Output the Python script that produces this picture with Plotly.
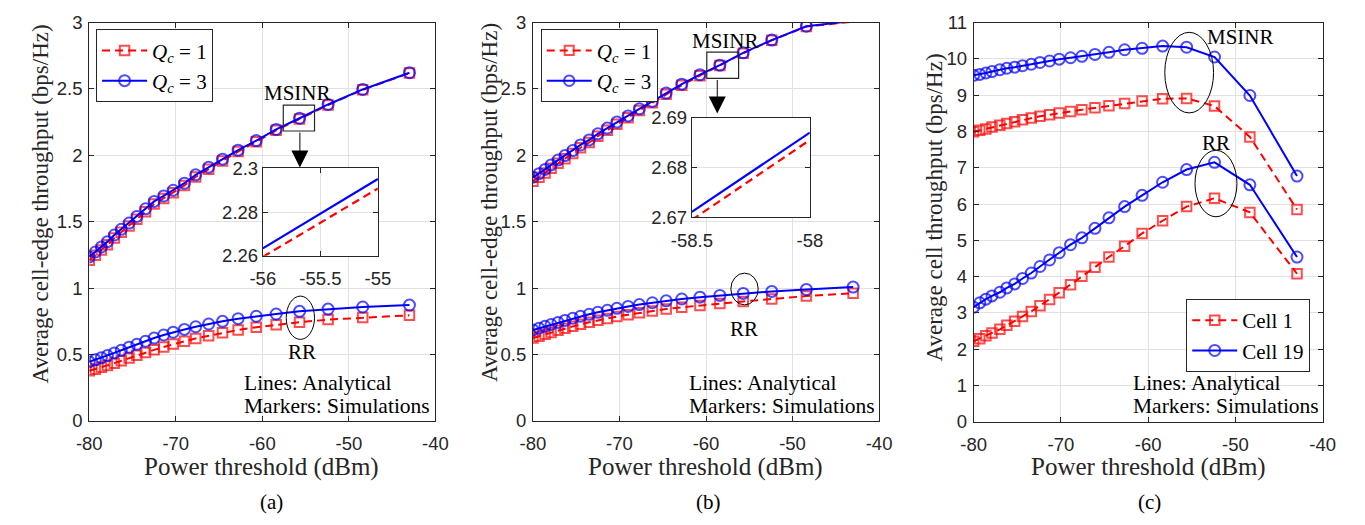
import plotly.graph_objects as go

# ---------------- data ----------------
power_ab = [-80, -79.3, -78.6, -77.9, -77.1, -76.3, -75.4, -74.5, -73.5, -72.5, -71.4, -70.3,
            -69.0, -67.7, -66.2, -64.6, -62.8, -60.7, -58.4, -55.7, -52.4, -48.4, -43]
power_c = [-80, -79.3, -78.6, -77.9, -77.0, -76.2, -75.3, -74.4, -73.4, -72.4, -71.3, -70.2,
           -68.9, -67.6, -66.1, -64.5, -62.7, -60.7, -58.35, -55.6, -52.4, -48.35, -42.95]

# (a) cell-edge throughput
a_msinr_q1 = [1.21, 1.248, 1.287, 1.327, 1.377, 1.42, 1.468, 1.518, 1.576, 1.633, 1.675, 1.719,
              1.773, 1.837, 1.896, 1.958, 2.028, 2.102, 2.188, 2.274, 2.379, 2.493, 2.619]
a_msinr_q3 = [1.235, 1.272, 1.31, 1.35, 1.40, 1.443, 1.49, 1.54, 1.597, 1.653, 1.694, 1.737,
              1.79, 1.853, 1.911, 1.971, 2.039, 2.111, 2.195, 2.279, 2.383, 2.496, 2.622]
a_rr_q1 = [0.378, 0.39, 0.404, 0.418, 0.435, 0.453, 0.473, 0.494, 0.515, 0.535, 0.557, 0.579,
           0.6, 0.621, 0.642, 0.663, 0.685, 0.705, 0.724, 0.743, 0.763, 0.779, 0.795]
a_rr_q3 = [0.445, 0.46, 0.476, 0.492, 0.512, 0.532, 0.555, 0.577, 0.60, 0.624, 0.647, 0.668,
           0.689, 0.709, 0.73, 0.75, 0.77, 0.788, 0.805, 0.825, 0.842, 0.858, 0.872]
inset_a_x = [-56, -55]
inset_a_q1 = [2.2595, 2.2908]
inset_a_q3 = [2.2634, 2.2952]

# (b) cell-edge throughput
b_msinr_q1 = [1.805, 1.834, 1.867, 1.902, 1.94, 1.975, 2.014, 2.057, 2.097, 2.144, 2.188, 2.234,
              2.283, 2.337, 2.395, 2.459, 2.528, 2.6, 2.677, 2.769, 2.866, 2.97, 3.006]
b_msinr_q3 = [1.835, 1.862, 1.894, 1.928, 1.964, 1.998, 2.036, 2.078, 2.116, 2.162, 2.205, 2.25,
              2.297, 2.35, 2.406, 2.469, 2.536, 2.607, 2.679, 2.772, 2.868, 2.972, 3.012]
b_rr_q1 = [0.625, 0.638, 0.652, 0.666, 0.682, 0.697, 0.713, 0.728, 0.743, 0.758, 0.772, 0.786,
           0.8, 0.814, 0.828, 0.842, 0.856, 0.87, 0.884, 0.9, 0.918, 0.94, 0.962]
b_rr_q3 = [0.685, 0.698, 0.712, 0.726, 0.742, 0.757, 0.773, 0.788, 0.803, 0.818, 0.833, 0.848,
           0.862, 0.876, 0.89, 0.904, 0.918, 0.932, 0.945, 0.96, 0.975, 0.99, 1.008]
inset_b_x = [-58.5, -58]
inset_b_q1 = [2.6695, 2.6855]
inset_b_q3 = [2.6711, 2.687]

# (c) cell throughput
c_msinr_cell1 = [7.99, 8.03, 8.07, 8.12, 8.17, 8.22, 8.27, 8.32, 8.37, 8.42, 8.46, 8.51,
                 8.55, 8.60, 8.65, 8.71, 8.77, 8.84, 8.90, 8.91, 8.70, 7.85, 5.85]
c_msinr_cell19 = [9.546, 9.57, 9.61, 9.65, 9.70, 9.74, 9.77, 9.81, 9.85, 9.90, 9.94, 9.99,
                  10.03, 10.07, 10.12, 10.18, 10.25, 10.29, 10.35, 10.32, 10.05, 8.99, 6.77]
c_rr_cell1 = [2.22, 2.29, 2.37, 2.45, 2.55, 2.66, 2.77, 2.90, 3.04, 3.20, 3.37, 3.56,
              3.78, 4.01, 4.26, 4.54, 4.84, 5.19, 5.54, 5.93, 6.16, 5.77, 4.08]
c_rr_cell19 = [3.16, 3.28, 3.38, 3.47, 3.57, 3.69, 3.80, 3.95, 4.10, 4.28, 4.46, 4.66,
               4.88, 5.07, 5.33, 5.62, 5.93, 6.24, 6.60, 6.95, 7.15, 6.53, 4.54]

x_tickvals = [-80, -70, -60, -50, -40]
x_ticktext = ['-80', '-70', '-60', '-50', '-40']
y_ab_tickvals = [0, 0.5, 1, 1.5, 2, 2.5, 3]
y_ab_ticktext = ['0', '0.5', '1', '1.5', '2', '2.5', '3']
y_c_tickvals = list(range(0, 12))
y_c_ticktext = [str(v) for v in y_c_tickvals]
inset_a_xticks = [-56, -55.5, -55]
inset_a_xtext = ['-56', '-55.5', '-55']
inset_a_yticks = [2.26, 2.28, 2.3]
inset_a_ytext = ['2.26', '2.28', '2.3']
inset_b_xticks = [-58.5, -58]
inset_b_xtext = ['-58.5', '-58']
inset_b_yticks = [2.67, 2.68, 2.69]
inset_b_ytext = ['2.67', '2.68', '2.69']

# ---------------- styling ----------------
W, H = 1365, 525
RED = '#ff0000'
BLUE = '#0000ff'
AX = '#262626'
GRID = '#e1e1e1'
SANS = 'Liberation Sans'
SERIF = 'Liberation Serif'
DASH = '8px,5px'

fig = go.Figure()


def series(x, y, color, dash, symbol, name, xa, ya, legend, showlegend, ymax=None):
    base = 11 if symbol == 'circle-open' else 9.5
    sizes = [base if (ymax is None or v <= ymax) else 0 for v in y]
    fig.add_trace(go.Scatter(
        x=x, y=y, mode='lines+markers', name=name,
        line=dict(color=color, width=2, dash=dash),
        marker=dict(symbol=symbol, size=sizes, color=color, line=dict(color=color, width=2)),
        xaxis=xa, yaxis=ya, legend=legend, showlegend=showlegend, hoverinfo='skip'))


def inset_line(x, y, color, dash, xa, ya):
    fig.add_trace(go.Scatter(x=x, y=y, mode='lines', line=dict(color=color, width=2.2, dash=dash),
                             xaxis=xa, yaxis=ya, showlegend=False, hoverinfo='skip'))


Q1 = '<i>Q<sub>c</sub></i> = 1'
Q3 = '<i>Q<sub>c</sub></i> = 3'

# (a)
series(power_ab, a_msinr_q1, RED, DASH, 'square-open', Q1, 'x', 'y', 'legend', True)
series(power_ab, a_rr_q1, RED, DASH, 'square-open', Q1, 'x', 'y', 'legend', False)
series(power_ab, a_msinr_q3, BLUE, 'solid', 'circle-open', Q3, 'x', 'y', 'legend', True)
series(power_ab, a_rr_q3, BLUE, 'solid', 'circle-open', Q3, 'x', 'y', 'legend', False)
# (b)
series(power_ab, b_msinr_q1, RED, DASH, 'square-open', Q1, 'x2', 'y2', 'legend2', True, ymax=3)
series(power_ab, b_rr_q1, RED, DASH, 'square-open', Q1, 'x2', 'y2', 'legend2', False)
series(power_ab, b_msinr_q3, BLUE, 'solid', 'circle-open', Q3, 'x2', 'y2', 'legend2', True, ymax=3)
series(power_ab, b_rr_q3, BLUE, 'solid', 'circle-open', Q3, 'x2', 'y2', 'legend2', False)
# (c)
series(power_c, c_msinr_cell1, RED, DASH, 'square-open', 'Cell 1', 'x3', 'y3', 'legend3', True)
series(power_c, c_rr_cell1, RED, DASH, 'square-open', 'Cell 1', 'x3', 'y3', 'legend3', False)
series(power_c, c_msinr_cell19, BLUE, 'solid', 'circle-open', 'Cell 19', 'x3', 'y3', 'legend3', True)
series(power_c, c_rr_cell19, BLUE, 'solid', 'circle-open', 'Cell 19', 'x3', 'y3', 'legend3', False)
# insets
inset_line(inset_a_x, inset_a_q1, RED, DASH, 'x4', 'y4')
inset_line(inset_a_x, inset_a_q3, BLUE, 'solid', 'x4', 'y4')
inset_line(inset_b_x, inset_b_q1, RED, DASH, 'x5', 'y5')
inset_line(inset_b_x, inset_b_q3, BLUE, 'solid', 'x5', 'y5')


def px_x(a, b):
    return [a / W, b / W]


def px_y(top, bottom):
    return [1 - bottom / H, 1 - top / H]


def axis(domain, rng, tv, tt, anchor, fsize=18.5, standoff=None):
    d = dict(domain=domain, range=rng, tickmode='array', tickvals=tv, ticktext=tt,
             showline=True, linecolor=AX, linewidth=1, mirror='ticks', ticks='inside',
             ticklen=5, tickcolor=AX, showgrid=True, gridcolor=GRID, gridwidth=1,
             zeroline=False, anchor=anchor, fixedrange=True,
             tickfont=dict(family=SANS, size=fsize, color=AX))
    if standoff is not None:
        d['ticklabelstandoff'] = standoff
    return d


Y_MAIN = px_y(12, 427)
fig.update_layout(
    width=W, height=H, margin=dict(l=0, r=0, t=0, b=0),
    paper_bgcolor='white', plot_bgcolor='white',
    xaxis=axis(px_x(70, 425), [-80, -40], x_tickvals, x_ticktext, 'y', standoff=6),
    yaxis=axis(Y_MAIN, [0, 3], y_ab_tickvals, y_ab_ticktext, 'x', standoff=2),
    xaxis2=axis(px_x(525, 880), [-80, -40], x_tickvals, x_ticktext, 'y2', standoff=6),
    yaxis2=axis(Y_MAIN, [0, 3], y_ab_tickvals, y_ab_ticktext, 'x2', standoff=2),
    xaxis3=axis(px_x(977, 1335), [-80, -40], x_tickvals, x_ticktext, 'y3', standoff=6),
    yaxis3=axis(px_y(12, 428), [0, 11], y_c_tickvals, y_c_ticktext, 'x3', standoff=2),
    xaxis4=axis(px_x(248, 366), [-56, -55], inset_a_xticks, inset_a_xtext, 'y4', standoff=6),
    yaxis4=axis(px_y(164, 255), [2.26, 2.30], inset_a_yticks, inset_a_ytext, 'x4'),
    xaxis5=axis(px_x(688, 809), [-58.5, -58], inset_b_xticks, inset_b_xtext, 'y5', standoff=6),
    yaxis5=axis(px_y(111, 215), [2.67, 2.69], inset_b_yticks, inset_b_ytext, 'x5'),
)

leg_common = dict(xanchor='left', yanchor='top', bgcolor='white', bordercolor=AX, borderwidth=1,
                  font=dict(family=SERIF, size=21, color='black'), tracegroupgap=0,
                  itemwidth=45, itemclick=False, itemdoubleclick=False)
fig.update_layout(
    legend=dict(x=77 / W, y=1 - 19 / H, **leg_common),
    legend2=dict(x=533 / W, y=1 - 19 / H, **leg_common),
    legend3=dict(x=1195 / W, y=1 - 300 / H, **leg_common),
)

ann = []
shapes = []


def text(x, y, s, xref, yref, size=21, xanchor='center', angle=0, color='black'):
    ann.append(dict(x=x, y=y, text=s, xref=xref, yref=yref, showarrow=False, xanchor=xanchor,
                    yanchor='middle', textangle=angle,
                    font=dict(family=SERIF, size=size, color=color)))


def ellipse(x0, x1, y0, y1, xref, yref):
    shapes.append(dict(type='circle', x0=x0, x1=x1, y0=y0, y1=y1, xref=xref, yref=yref,
                       line=dict(color='black', width=1)))


def arrow(x, y_from, y_to, xref, yref):
    ann.append(dict(x=x, y=y_to, ax=x, ay=y_from, xref=xref, yref=yref, axref=xref, ayref=yref,
                    text='', showarrow=True, arrowhead=2, arrowsize=3.4, arrowwidth=1,
                    arrowcolor='black', standoff=0))


# (a) decorations
text(-55.89, 2.472, 'MSINR', 'x', 'y')
shapes.append(dict(type='rect', x0=-57.58, x1=-53.97, y0=2.183, y1=2.378, xref='x', yref='y',
                   line=dict(color=AX, width=1.2)))
arrow(-55.66, 2.183, 1.909, 'x', 'y')
text(-55.44, 0.52, 'RR', 'x', 'y')
ellipse(-57.24, -53.97, 0.614, 0.94, 'x', 'y')
text(-62.31, 0.289, 'Lines: Analytical', 'x', 'y', size=21.5, xanchor='left')
text(-62.31, 0.116, 'Markers: Simulations', 'x', 'y', size=21.5, xanchor='left')

# (b) decorations
text(-57.77, 2.864, 'MSINR', 'x2', 'y2')
shapes.append(dict(type='rect', x0=-59.91, x1=-56.23, y0=2.579, y1=2.777, xref='x2', yref='y2',
                   line=dict(color=AX, width=1.2)))
arrow(-58.7, 2.579, 2.314, 'x2', 'y2')
text(-55.66, 0.694, 'RR', 'x2', 'y2')
ellipse(-57.13, -53.97, 0.874, 1.113, 'x2', 'y2')
text(-62.2, 0.289, 'Lines: Analytical', 'x2', 'y2', size=21.5, xanchor='left')
text(-62.2, 0.112, 'Markers: Simulations', 'x2', 'y2', size=21.5, xanchor='left')

# (c) decorations
text(-49.39, 10.59, 'MSINR', 'x3', 'y3')
ellipse(-58.10, -52.51, 8.51, 10.73, 'x3', 'y3')
text(-52.18, 7.69, 'RR', 'x3', 'y3')
ellipse(-54.64, -49.83, 5.65, 7.48, 'x3', 'y3')
text(-62.01, 1.083, 'Lines: Analytical', 'x3', 'y3', size=21.5, xanchor='left')
text(-62.01, 0.449, 'Markers: Simulations', 'x3', 'y3', size=21.5, xanchor='left')

# axis titles and captions
for cx in [247, 702, 1156]:
    text(cx / W, 1 - 475 / H, 'Power threshold (dBm)', 'paper', 'paper', size=25, color=AX)
for cx, cap in [(257, '(a)'), (705, '(b)'), (1157, '(c)')]:
    text(cx / W, 1 - 511 / H, cap, 'paper', 'paper', size=21)
text(20 / W, 1 - 201 / H, 'Average cell-edge throughput (bps/Hz)', 'paper', 'paper', size=23,
     angle=-90, color=AX)
text(480 / W, 1 - 200 / H, 'Average cell-edge throughput (bps/Hz)', 'paper', 'paper', size=23,
     angle=-90, color=AX)
text(937 / W, 1 - 205 / H, 'Average cell throughput (bps/Hz)', 'paper', 'paper', size=23,
     angle=-90, color=AX)

fig.update_layout(annotations=ann, shapes=shapes)
fig.write_html('out.html')
